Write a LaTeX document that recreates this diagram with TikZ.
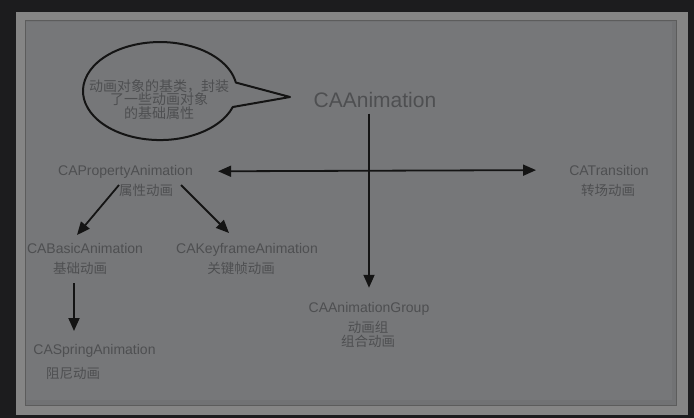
\documentclass[tikz,border=0pt]{standalone}
\usepackage{xcolor}
\usepackage{fontspec}
\setmainfont{Liberation Sans}
\newfontfamily\cjk{Noto Sans CJK SC}
\usepackage{tikz}
\usetikzlibrary{positioning, shapes, arrows.meta}
\definecolor{backdrop}{HTML}{1C1C1E}
\definecolor{panel}{HTML}{858585}
\definecolor{sheet}{HTML}{717274}
\definecolor{sheetlight}{HTML}{767779}
\definecolor{rim}{HTML}{5C5C5C}
\definecolor{label}{HTML}{4E4F51}
\definecolor{ink}{HTML}{141414}

\begin{document}
\begin{tikzpicture}[x=1pt, y=-1pt, semithick, >={Triangle[length=13pt, width=11pt]},
    class_name/.style={anchor=base, inner sep=0pt, text=label, font=\fontsize{14}{14}\selectfont},
    cn_name/.style={anchor=base, inner sep=0pt, text=label, font=\cjk\fontsize{13.5}{14}\selectfont},
    link/.style={draw=ink, line width=1.8pt, ->}]
  \useasboundingbox (0,0) rectangle (694,418);
  \fill[backdrop] (0,0) rectangle (694,418);
  \fill[panel] (16,12) rectangle (688,415);
  \filldraw[fill=sheet, draw=rim, line width=1pt] (25.5,20.5) rectangle (676.5,405.5);
  \fill[sheetlight] (26,22) rectangle (672,400);

  % speech bubble
  \draw[ink, line width=2pt, line join=round] (232.8,107) arc[start angle=19, end angle=350, x radius=77, y radius=49] -- (290,97) -- cycle;
  \node[align=center, text=label, font=\cjk\fontsize{14}{13.5}\selectfont] (bubble_text) at (159,99.5) {动画对象的基类，封装\\了一些动画对象\\的基础属性};

  % classes
  \node[class_name, font=\fontsize{21}{21}\selectfont] (ca_animation) at (375,107.5) {CAAnimation};
  \node[class_name] (property_animation) at (125.5,175) {CAPropertyAnimation};
  \node[cn_name] (property_cn) at (146,195) {属性动画};
  \node[class_name] (transition) at (609,175) {CATransition};
  \node[cn_name] (transition_cn) at (608,195) {转场动画};
  \node[class_name] (basic_animation) at (85,253) {CABasicAnimation};
  \node[cn_name] (basic_cn) at (80,273) {基础动画};
  \node[class_name] (keyframe_animation) at (247,253) {CAKeyframeAnimation};
  \node[cn_name] (keyframe_cn) at (241,273) {关键帧动画};
  \node[class_name] (animation_group) at (369,312) {CAAnimationGroup};
  \node[cn_name] (group_cn) at (368,332) {动画组};
  \node[cn_name] (combine_cn) at (368,346) {组合动画};
  \node[class_name] (spring_animation) at (94.5,354) {CASpringAnimation};
  \node[cn_name] (spring_cn) at (73,378) {阻尼动画};

  % inheritance
  \draw[link, <->, shorten <=25pt, shorten >=33pt] (property_animation.east) -- (transition.west);
  \draw[link, shorten <=5.5pt, shorten >=13.8pt] (ca_animation.south -| animation_group.north) -- (animation_group.north);
  \draw[link] ([xshift=-6.5pt, yshift=-10pt]property_animation.base) -- ([xshift=-8pt, yshift=18pt]basic_animation.base);
  \draw[link] ([xshift=55.5pt, yshift=-10pt]property_animation.base) -- ([xshift=-18pt, yshift=20pt]keyframe_animation.base);
  \draw[link] ([xshift=-11pt, yshift=-30pt]basic_animation.base) -- ([xshift=-20.5pt, yshift=23pt]spring_animation.base);
\end{tikzpicture}
\end{document}
